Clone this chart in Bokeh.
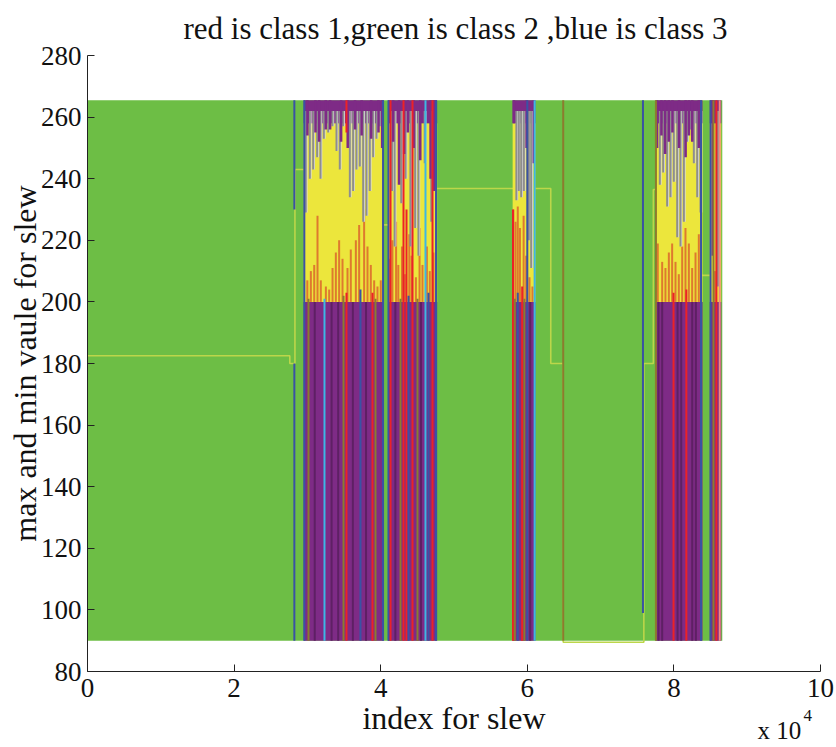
from bokeh.plotting import figure
from bokeh.models import ColumnDataSource, Label, FixedTicker, Range1d
from bokeh.embed import file_html
from bokeh.resources import INLINE
from bokeh.transform import dodge

# ---------------- data (x in units of 1e4) ----------------
title_text = "red is class 1,green is class 2 ,blue is class 3"
x_ticks = [0, 2, 4, 6, 8, 10]
y_ticks = [80, 100, 120, 140, 160, 180, 200, 220, 240, 260, 280]
x_lim = [0, 10]
y_lim = [80, 280]

field_x = [0.0, 8.66]          # extent of class-2 (green) band
field_y = [90.0, 265.5]

# dense mixed-class clusters
cl_x0 = [2.95, 4.10, 5.80, 7.75, 8.49]
cl_x1 = [4.04, 4.77, 6.11, 8.39, 8.645]
cl_mid = [200, 200, 200, 200, 200]
cl_top = [258, 258, 258, 258, 258]

# threshold (yellow-green) step line
thr_x = [0, 2.76, 2.76, 2.83, 2.83, 3.5, 3.5, 4.4, 4.4, 6.32, 6.32, 6.49, 6.49, 7.59, 7.59, 7.72, 7.72, 8.0, 8.0, 8.53, 8.53]
thr_y = [182.5, 182.5, 180, 180, 243, 243, 225, 225, 236.8, 236.8, 180, 180, 89.5, 89.5, 180, 180, 236.5, 236.5, 208.6, 208.6, 200]

# gray streaks hanging from the top (x, lower end)
gray_x = [2.978, 3.033, 3.079, 3.133, 3.179, 3.224, 3.284, 3.342, 3.397, 3.442, 3.488, 3.579, 3.624, 3.670, 3.715, 3.761, 3.806, 3.851, 3.897, 3.943, 3.988,
          4.155, 4.19, 4.28, 4.34, 4.405, 4.47, 4.515, 4.60, 4.69,
          5.851, 5.884, 5.917, 5.953, 6.021, 6.053,
          7.808, 7.854, 7.908, 7.954, 7.999, 8.045, 8.090, 8.136, 8.181, 8.227, 8.272, 8.318, 8.363, 8.60]
gray_y = [229, 240, 243, 247, 240, 253, 255, 257, 249, 243, 257, 234, 236, 243, 244, 226, 228, 236, 247, 253, 257,
          236, 218, 232, 240, 218, 224, 215, 245, 226,
          233, 236, 234, 236, 220, 211,
          238, 242, 231, 234, 239, 221, 218, 226, 252, 256, 245, 234, 229, 205]

# orange streaks rising from 200 (x, upper end)
org_x = [2.999, 3.047, 3.093, 3.138, 3.183, 3.252, 3.297, 3.343, 3.388, 3.433, 3.479, 3.547, 3.592, 3.661, 3.706, 3.774, 3.820, 3.865, 3.911, 3.956, 4.001,
         4.12, 4.16, 4.21, 4.24, 4.29, 4.33, 4.39, 4.42, 4.48, 4.53, 4.57, 4.63, 4.67, 4.72,
         5.81, 5.84, 5.87, 5.90, 5.95, 5.985, 6.03, 6.07,
         7.78, 7.84, 7.885, 7.931, 7.976, 8.022, 8.067, 8.113, 8.158, 8.204, 8.249, 8.295, 8.34, 8.56]
org_y = [207, 210, 212, 228, 207, 205, 204, 211, 216, 220, 214, 211, 217, 220, 225, 230, 218, 212, 207, 205, 207,
         214, 220, 226, 212, 218, 209, 222, 215, 208, 224, 212, 218, 210, 216,
         230, 226, 231, 224, 228, 215, 208, 205,
         219, 213, 211, 216, 219, 213, 209, 218, 224, 219, 211, 216, 222, 210]

# purple streaks hanging from the top (x, lower end)
purp_x = [3.00, 3.11, 3.16, 3.25, 3.31, 3.46, 3.55, 3.65, 3.74, 3.87, 3.97, 4.02,
          4.17, 4.25, 4.32, 4.37, 4.45, 4.54, 4.68, 4.73,
          5.816, 5.99, 6.089,
          7.77, 7.83, 7.88, 7.93, 7.98, 8.07, 8.16, 8.205, 8.25, 8.34, 8.53]
purp_y = [254, 255, 252, 256, 256, 252, 250, 256, 254, 253, 255, 250,
          252, 238, 248, 255, 250, 246, 240, 236,
          258, 250, 245,
          250, 254, 248, 252, 255, 250, 247, 254, 252, 250, 215]

# single-class vertical lines (x, low, high, class code)
line_x = [2.822, 2.822, 6.49, 7.578,
          2.958, 3.015, 3.10, 3.233, 3.33, 3.42, 3.493, 3.533, 3.533, 3.62, 3.724, 3.80, 3.888, 3.929, 4.032,
          4.106, 4.134, 4.20, 4.270, 4.311, 4.352, 4.38, 4.434, 4.502, 4.55, 4.611, 4.652, 4.707, 4.755,
          5.805, 5.83, 5.87, 5.93, 5.96, 6.00, 6.04, 6.10,
          7.755, 7.79, 7.84, 7.995, 8.05, 8.10, 8.17, 8.25, 8.30, 8.37,
          8.50, 8.54, 8.58, 8.625]
line_lo = [90, 230, 90, 99,
           90, 90, 90, 90, 90, 90, 90, 90, 255, 90, 90, 90, 90, 90, 90,
           90, 90, 90, 90, 90, 90, 90, 90, 90, 90, 90, 90, 90, 90,
           90, 90, 90, 90, 90, 90, 90, 90,
           90, 90, 90, 90, 90, 90, 90, 90, 90, 90,
           90, 90, 90, 90]
line_hi = [180, 265.5, 265.5, 265.5,
           265.5, 201, 200, 201, 200, 200, 202, 203, 265.5, 200, 204, 200, 203, 201, 265.5,
           265.5, 265.5, 200, 201, 265.5, 230, 202, 265.5, 201, 200, 265.5, 203, 265.5, 265.5,
           230, 201, 203, 205, 201, 265.5, 200, 265.5,
           265.5, 200, 200, 203, 200, 200, 204, 200, 200, 265.5,
           265.5, 265.5, 265.5, 265.5]
line_cls = ["b", "b", "o", "b",
            "b", "o", "d", "c", "d", "d", "o", "r", "r", "d", "b", "d", "r", "o", "b",
            "b", "r", "d", "o", "r", "r", "b", "r", "o", "d", "c", "b", "r", "b",
            "r", "o", "b", "r", "o", "b", "d", "c",
            "o", "d", "d", "r", "d", "d", "r", "d", "d", "b",
            "b", "o", "r", "s"]

# ---------------- styling ----------------
GREEN = "#6DBE45"
PURPLE = "#7E2B86"
YELLOW = "#ECE63C"
GRAY = "#8E8E8E"
WHITE = "#DCDCDC"
ORANGE = "#DE7A2E"
THR = "#BCD64A"
CLS_COL = {"r": "#EC2227", "b": "#3A53A4", "c": "#3DB7E4", "o": "#8C7B2F", "d": "#5E2064", "s": "#F08A80"}
FONT = "Liberation Serif"
INK = "#111111"

# canvas and where the axes sit on it (pixels)
W, H = 836, 747
AX_LEFT, AX_RIGHT = 87, 820       # pixel columns of x=0 and x=10
AX_TOP, AX_BOTTOM = 55, 671       # pixel rows of y=280 and y=80
ppx = (AX_RIGHT - AX_LEFT) / (x_lim[1] - x_lim[0])
ppy = (AX_BOTTOM - AX_TOP) / (y_lim[1] - y_lim[0])
xr = Range1d(x_lim[0] - AX_LEFT / ppx, x_lim[1] + (W - AX_RIGHT) / ppx)
yr = Range1d(y_lim[0] - (H - AX_BOTTOM) / ppy, y_lim[1] + AX_TOP / ppy)

def sx(px):   # canvas column -> data x (for text placement only)
    return xr.start + px / ppx

def sy(py):   # canvas row -> data y (for text placement only)
    return yr.end - py / ppy

p = figure(width=W, height=H, output_backend="svg", toolbar_location=None,
           x_range=xr, y_range=yr,
           min_border_left=0, min_border_right=0, min_border_top=0, min_border_bottom=0)
p.outline_line_color = None
p.xgrid.visible = False
p.ygrid.visible = False
p.background_fill_color = "white"
p.border_fill_color = "white"

for ax, ticks in ((p.xaxis[0], x_ticks), (p.yaxis[0], y_ticks)):
    ax.ticker = FixedTicker(ticks=ticks)
    ax.major_tick_in = 7
    ax.major_tick_out = 0
    ax.minor_tick_line_color = None
    ax.axis_line_color = "#222222"
    ax.major_tick_line_color = "#222222"
    ax.major_label_text_font = FONT
    ax.major_label_text_font_size = "27px"
    ax.major_label_text_color = INK
    ax.axis_label_text_font = FONT
    ax.axis_label_text_font_style = "normal"
    ax.axis_label_text_color = INK
    ax.axis_label_text_font_size = "32px"
p.xaxis.fixed_location = y_lim[0]
p.yaxis.fixed_location = x_lim[0]
p.xaxis.bounds = (x_lim[0], x_lim[1])
p.yaxis.bounds = (y_lim[0], y_lim[1])
p.xaxis.axis_label = "index for slew"
p.yaxis.axis_label = "max and min vaule for slew"
p.xaxis.major_label_standoff = 7
p.yaxis.major_label_standoff = 6
p.xaxis.axis_label_standoff = 0
p.yaxis.axis_label_standoff = -5

# green class-2 band
p.quad(left=[field_x[0]], right=[field_x[1]], bottom=[field_y[0]], top=[field_y[1]],
       fill_color=GREEN, line_color=None)

# threshold step line
p.line(thr_x, thr_y, line_color=THR, line_width=1.6)

# cluster bases
top_edge = [field_y[1]] * len(cl_x0)
bot_edge = [field_y[0]] * len(cl_x0)
p.quad(left=cl_x0, right=cl_x1, bottom=bot_edge, top=cl_mid, fill_color=PURPLE, line_color=None)
p.quad(left=cl_x0, right=cl_x1, bottom=cl_mid, top=cl_top, fill_color=YELLOW, line_color=None)
p.quad(left=cl_x0, right=cl_x1, bottom=cl_top, top=top_edge, fill_color=PURPLE, line_color=None)

# orange streaks
osrc = ColumnDataSource(dict(x=org_x, y=org_y, base=[200] * len(org_x)))
p.segment(x0="x", y0="base", x1="x", y1="y", source=osrc, line_color=ORANGE, line_width=2)

# gray streaks with light edge
gsrc = ColumnDataSource(dict(x=gray_x, y=gray_y, top=[262] * len(gray_x)))
p.segment(x0=dodge("x", 0.014, range=p.x_range), y0="top", x1=dodge("x", 0.014, range=p.x_range), y1="y",
          source=gsrc, line_color=WHITE, line_width=1.5)
p.segment(x0="x", y0="top", x1="x", y1="y", source=gsrc, line_color=GRAY, line_width=2)

# purple streaks at top
psrc = ColumnDataSource(dict(x=purp_x, y=purp_y, top=[field_y[1]] * len(purp_x)))
p.segment(x0="x", y0="top", x1="x", y1="y", source=psrc, line_color=PURPLE, line_width=2.5)

# single-class lines
lsrc = ColumnDataSource(dict(x=line_x, lo=line_lo, hi=line_hi, color=[CLS_COL[c] for c in line_cls]))
p.segment(x0="x", y0="lo", x1="x", y1="hi", source=lsrc, line_color="color", line_width=2)

# title
p.add_layout(Label(x=sx(455), y=sy(28), text=title_text, text_font=FONT, text_font_size="31px",
                   text_color=INK, text_align="center", text_baseline="middle"))
# x 10^4 exponent label
p.add_layout(Label(x=sx(757), y=sy(730), text="x 10", text_font=FONT, text_font_size="25px",
                   text_color=INK, text_align="left", text_baseline="middle"))
p.add_layout(Label(x=sx(803), y=sy(715), text="4", text_font=FONT, text_font_size="17px",
                   text_color=INK, text_align="left", text_baseline="middle"))

open("out.html", "w").write(file_html(p, INLINE))
